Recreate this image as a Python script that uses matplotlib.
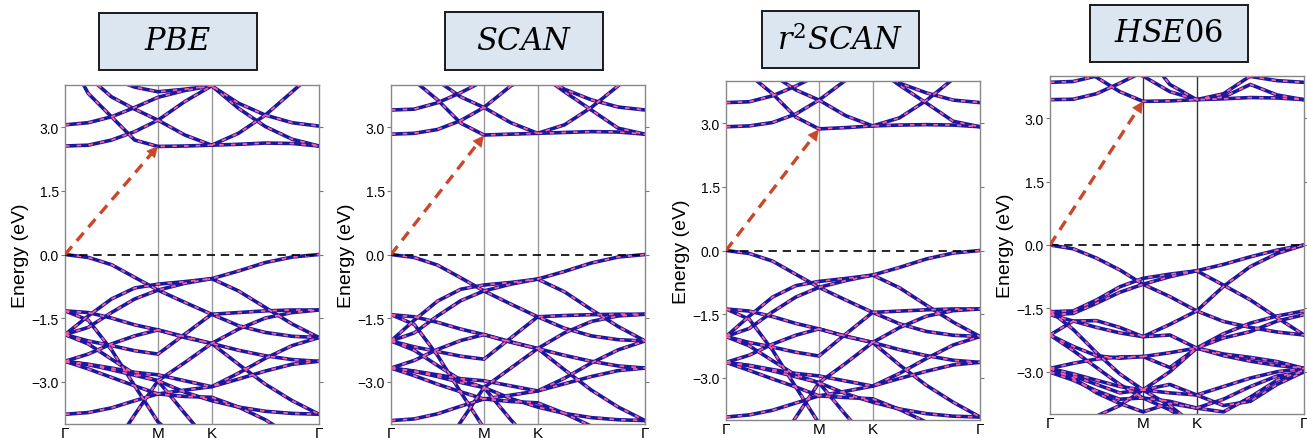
import numpy as np
import matplotlib.pyplot as plt
from matplotlib.patches import Rectangle

# high-symmetry path G-M-K-G of the hexagonal zone (segment lengths, 2pi/a units)
GM, MK, KG = 1 / np.sqrt(3), 1 / 3, 2 / 3
kpath = np.concatenate([np.linspace(0, GM, 5),
                        GM + np.linspace(0, MK, 3)[1:],
                        GM + MK + np.linspace(0, KG, 5)[1:]])
sym_k = [0, GM, GM + MK, GM + MK + KG]
sym_labels = ["Γ", "M", "K", "Γ"]

methods = [r"$PBE$", r"$SCAN$", r"$r^2SCAN$", r"$HSE06$"]
cbm_at_m = [2.56, 2.81, 2.86, 3.40]

# band energies (eV) at the 11 k-points of kpath
pbe_vb = [
    [0.00, -0.07, -0.24, -0.54, -0.84, -1.13, -1.41, -1.68, -1.84, -1.93, -1.96],
    [-1.89, -1.45, -1.05, -0.79, -0.70, -0.64, -0.57, -0.39, -0.19, -0.06, 0.00],
    [-1.89, -1.72, -1.37, -1.05, -0.84, -0.68, -0.57, -0.86, -1.25, -1.64, -1.96],
    [-1.33, -1.37, -1.50, -1.66, -1.78, -1.94, -2.10, -2.26, -2.39, -2.48, -2.52],
    [-1.33, -1.55, -2.25, -3.10, -3.95, -4.50, -4.80, -4.80, -4.80, -4.80, -4.80],
    [-1.89, -2.04, -2.15, -2.27, -2.35, -1.88, -1.41, -1.37, -1.33, -1.31, -1.31],
    [-2.52, -2.35, -2.11, -1.92, -1.78, -1.96, -2.10, -1.76, -1.50, -1.37, -1.31],
    [-2.52, -2.59, -2.68, -2.78, -2.84, -2.98, -3.12, -2.94, -2.75, -2.59, -2.52],
    [-1.89, -2.11, -2.47, -2.82, -2.98, -3.25, -3.45, -3.60, -3.70, -3.75, -3.77],
    [-3.77, -3.73, -3.62, -3.45, -3.29, -3.20, -3.12, -2.80, -2.45, -2.15, -1.96],
    [-6.00, -5.40, -4.60, -3.78, -2.98, -2.55, -2.10, -2.59, -3.06, -3.45, -3.77],
    [-2.52, -2.60, -2.72, -2.85, -2.98, -3.75, -4.50, -4.60, -4.60, -4.60, -4.60],
    [-2.52, -2.70, -2.90, -3.10, -3.29, -3.35, -3.37, -3.60, -3.90, -4.30, -4.60],
]
pbe_cb = [
    [2.56, 2.58, 2.70, 2.90, 3.17, 3.61, 3.98, 3.57, 3.29, 3.11, 3.03],
    [4.80, 3.80, 3.25, 2.70, 2.55, 2.56, 2.58, 2.60, 2.63, 2.62, 2.56],
    [3.06, 3.11, 3.25, 3.47, 3.71, 3.87, 3.98, 3.45, 3.02, 2.72, 2.56],
    [4.80, 4.20, 3.72, 3.43, 3.17, 2.82, 2.58, 2.86, 3.29, 3.84, 4.40],
    [4.80, 4.50, 4.15, 3.95, 3.84, 3.90, 3.98, 4.30, 4.60, 4.80, 4.80],
]

scan_vb = [
    [0.00, -0.07, -0.25, -0.55, -0.86, -1.17, -1.47, -1.74, -1.92, -2.01, -2.04],
    [-2.04, -1.55, -1.10, -0.82, -0.72, -0.66, -0.58, -0.40, -0.20, -0.06, 0.00],
    [-2.04, -1.85, -1.45, -1.09, -0.86, -0.70, -0.58, -0.88, -1.30, -1.70, -2.04],
    [-1.42, -1.47, -1.60, -1.76, -1.89, -2.06, -2.22, -2.38, -2.52, -2.63, -2.68],
    [-1.42, -1.65, -2.38, -3.25, -4.10, -4.60, -4.90, -4.90, -4.90, -4.90, -4.90],
    [-2.04, -2.18, -2.29, -2.40, -2.47, -1.97, -1.47, -1.44, -1.42, -1.41, -1.41],
    [-2.68, -2.50, -2.24, -2.03, -1.89, -2.07, -2.22, -1.85, -1.58, -1.45, -1.41],
    [-2.68, -2.75, -2.84, -2.93, -2.98, -3.10, -3.22, -3.05, -2.88, -2.74, -2.68],
    [-2.04, -2.26, -2.62, -2.96, -3.14, -3.40, -3.60, -3.75, -3.85, -3.90, -3.92],
    [-3.92, -3.88, -3.76, -3.58, -3.41, -3.32, -3.22, -2.92, -2.56, -2.25, -2.04],
    [-6.20, -5.60, -4.80, -3.95, -3.14, -2.68, -2.22, -2.72, -3.20, -3.60, -3.92],
    [-2.68, -2.76, -2.88, -3.02, -3.14, -3.90, -4.60, -4.70, -4.70, -4.70, -4.70],
    [-2.68, -2.86, -3.06, -3.24, -3.41, -3.47, -3.50, -3.75, -4.05, -4.45, -4.75],
]
scan_cb = [
    [2.84, 2.86, 2.95, 3.16, 3.47, 3.98, 4.30, 3.90, 3.65, 3.48, 3.41],
    [5.00, 4.10, 3.65, 3.10, 2.82, 2.84, 2.86, 2.88, 2.90, 2.89, 2.84],
    [3.41, 3.43, 3.58, 3.82, 4.10, 4.30, 4.30, 3.84, 3.41, 2.98, 2.84],
    [5.20, 4.70, 4.10, 3.72, 3.47, 3.11, 2.86, 3.06, 3.47, 3.98, 4.50],
]

r2scan_vb = [
    [0.00, -0.07, -0.25, -0.56, -0.87, -1.17, -1.46, -1.73, -1.91, -2.00, -2.03],
    [-2.03, -1.55, -1.10, -0.83, -0.73, -0.66, -0.58, -0.40, -0.20, -0.06, 0.00],
    [-2.03, -1.84, -1.45, -1.10, -0.87, -0.71, -0.58, -0.88, -1.29, -1.69, -2.03],
    [-1.38, -1.43, -1.56, -1.72, -1.85, -2.02, -2.17, -2.34, -2.48, -2.59, -2.64],
    [-1.38, -1.62, -2.35, -3.22, -4.08, -4.60, -4.90, -4.90, -4.90, -4.90, -4.90],
    [-2.03, -2.17, -2.28, -2.40, -2.49, -1.97, -1.46, -1.43, -1.40, -1.38, -1.38],
    [-2.64, -2.47, -2.21, -2.00, -1.85, -2.03, -2.17, -1.82, -1.55, -1.42, -1.38],
    [-2.64, -2.71, -2.81, -2.90, -2.96, -3.08, -3.20, -3.02, -2.85, -2.70, -2.64],
    [-2.03, -2.25, -2.60, -2.94, -3.12, -3.38, -3.58, -3.74, -3.85, -3.91, -3.93],
    [-3.93, -3.88, -3.77, -3.60, -3.43, -3.32, -3.20, -2.90, -2.55, -2.23, -2.03],
    [-6.20, -5.60, -4.80, -3.94, -3.12, -2.66, -2.17, -2.70, -3.18, -3.58, -3.93],
    [-2.64, -2.72, -2.84, -2.98, -3.12, -3.88, -4.60, -4.70, -4.70, -4.70, -4.70],
    [-2.64, -2.83, -3.03, -3.22, -3.43, -3.47, -3.50, -3.75, -4.05, -4.45, -4.75],
]
r2scan_cb = [
    [2.92, 2.94, 3.02, 3.22, 3.55, 4.02, 4.35, 3.95, 3.72, 3.55, 3.49],
    [5.00, 4.15, 3.70, 3.15, 2.87, 2.90, 2.94, 2.96, 2.97, 2.96, 2.92],
    [3.49, 3.51, 3.65, 3.88, 4.15, 4.35, 4.35, 3.90, 3.48, 3.05, 2.92],
    [5.20, 4.75, 4.15, 3.79, 3.55, 3.18, 2.94, 3.13, 3.54, 4.05, 4.55],
]

hse_vb = [
    [0.00, -0.09, -0.31, -0.59, -0.93, -1.22, -1.56, -1.81, -1.95, -2.06, -2.13],
    [-1.58, -1.56, -1.30, -0.99, -0.79, -0.69, -0.61, -0.46, -0.28, -0.12, 0.00],
    [-1.65, -1.62, -1.38, -1.12, -0.93, -0.75, -0.61, -0.95, -1.30, -1.72, -2.13],
    [-1.65, -1.80, -1.95, -2.08, -2.17, -1.88, -1.56, -0.98, -0.51, -0.20, 0.00],
    [-2.13, -1.80, -1.79, -1.95, -2.17, -2.13, -2.44, -2.58, -2.66, -2.76, -2.92],
    [-2.13, -2.40, -2.62, -2.68, -2.64, -2.90, -2.44, -2.10, -1.85, -1.68, -1.56],
    [-1.56, -2.00, -2.55, -3.05, -3.43, -3.80, -4.30, -4.60, -4.60, -4.60, -4.60],
    [-2.92, -3.05, -3.20, -3.35, -3.43, -3.50, -3.55, -3.35, -3.15, -3.00, -2.92],
    [-3.01, -3.20, -3.45, -3.65, -3.62, -3.70, -3.86, -3.65, -3.35, -3.10, -3.01],
    [-2.92, -2.80, -2.70, -2.65, -2.64, -2.55, -2.44, -2.62, -2.75, -2.85, -2.92],
    [-3.01, -3.10, -3.30, -3.50, -3.43, -3.30, -3.55, -3.80, -3.70, -3.30, -3.00],
    [-2.13, -2.50, -2.90, -3.30, -3.62, -3.90, -4.30, -4.60, -4.60, -4.60, -4.60],
    [-4.60, -4.40, -4.05, -3.80, -3.43, -3.00, -2.44, -2.20, -2.05, -1.80, -1.65],
    [-2.92, -3.15, -3.50, -3.75, -3.95, -3.75, -3.86, -3.95, -3.60, -3.20, -2.96],
]
hse_cb = [
    [3.44, 3.45, 3.58, 3.83, 4.10, 4.40, 4.50, 4.30, 3.99, 3.89, 3.85],
    [3.85, 3.87, 4.00, 4.30, 4.50, 4.60, 4.60, 4.60, 4.60, 4.60, 4.60],
    [4.60, 4.40, 3.97, 3.63, 3.40, 3.41, 3.44, 3.46, 3.49, 3.48, 3.44],
    [4.60, 4.50, 4.40, 4.20, 4.00, 3.63, 3.44, 3.58, 4.00, 4.30, 4.50],
    [4.60, 4.60, 4.60, 4.60, 4.60, 3.80, 3.44, 3.50, 3.80, 3.55, 3.44],
]

all_bands = [pbe_vb + pbe_cb, scan_vb + scan_cb, r2scan_vb + r2scan_cb, hse_vb + hse_cb]
ytick_vals = [-3.0, -1.5, 0.0, 1.5, 3.0]
ytick_labels = ["\u22123.0", "\u22121.5", "0.0", "1.5", "3.0"]

W, H = 1307, 439
# axes and title boxes in pixels: (left, top, right, bottom)
axes_px = [(65, 86, 319, 425), (391, 86, 645, 425), (726, 82, 980, 421), (1050, 77, 1304, 415)]
boxes_px = [(99, 14, 257, 71), (445, 13, 603, 71), (762, 12, 919, 69), (1090, 6, 1248, 63)]
vline_col = ["#999999", "#999999", "#999999", "#333333"]

BLUE = "#1a189e"
PINK = "#ff5c9a"
ARROW = "#c9472b"

plt.rcParams["font.family"] = ["Liberation Sans", "DejaVu Sans"]
plt.rcParams["mathtext.fontset"] = "dejavuserif"

fig = plt.figure(figsize=(W / 100, H / 100), dpi=100)

for i in range(4):
    l, t, r, b = axes_px[i]
    ax = fig.add_axes([l / W, 1 - b / H, (r - l) / W, (b - t) / H])
    for band in all_bands[i]:
        ax.plot(kpath, band, color=BLUE, lw=2.6, zorder=2, solid_joinstyle="round")
        ax.plot(kpath, band, color=PINK, lw=1.3, ls=(0, (2.5, 4.0)), zorder=3)
    for k in sym_k[1:3]:
        ax.axvline(k, color=vline_col[i], lw=1.0, zorder=1)
    ax.axhline(0, color="black", lw=1.2, ls=(0, (5, 3.5)), zorder=4)

    # indirect gap arrow from VBM at G to CBM at M
    tip = cbm_at_m[i]
    ax.plot([0, GM * 0.93], [0, tip * 0.93], color=ARROW, lw=2.4,
            ls=(0, (3.2, 2.2)), zorder=5, solid_capstyle="butt")
    ax.annotate("", xy=(GM, tip), xytext=(GM * 0.92, tip * 0.92),
                arrowprops=dict(arrowstyle="-|>", color=ARROW, lw=0.1,
                                mutation_scale=20, shrinkA=0, shrinkB=0), zorder=6)

    ax.set_xlim(0, sym_k[-1])
    ax.set_ylim(-4, 4)
    ax.set_xticks(sym_k)
    ax.set_xticklabels(sym_labels, fontsize=11)
    ax.tick_params(axis="x", length=0, pad=1.5)
    ax.set_yticks(ytick_vals)
    ax.set_yticklabels(ytick_labels, fontsize=10)
    ax.tick_params(axis="y", direction="out", length=3, pad=1.5, color="#777777",
                   right=True)
    ax.set_ylabel("Energy (eV)", fontsize=14, labelpad=2)
    for s in ax.spines.values():
        s.set_color("#888888")
        s.set_linewidth(1.0)

    bl, bt, br, bb = boxes_px[i]
    fig.add_artist(Rectangle((bl / W, 1 - bb / H), (br - bl) / W, (bb - bt) / H,
                             transform=fig.transFigure, facecolor="#dce6f1",
                             edgecolor="#1a1a1a", lw=1.4))
    fig.text((bl + br) / 2 / W, 1 - (bt + bb) / 2 / H, methods[i], fontsize=22,
             ha="center", va="center")

fig.savefig("out.png", dpi=100)
